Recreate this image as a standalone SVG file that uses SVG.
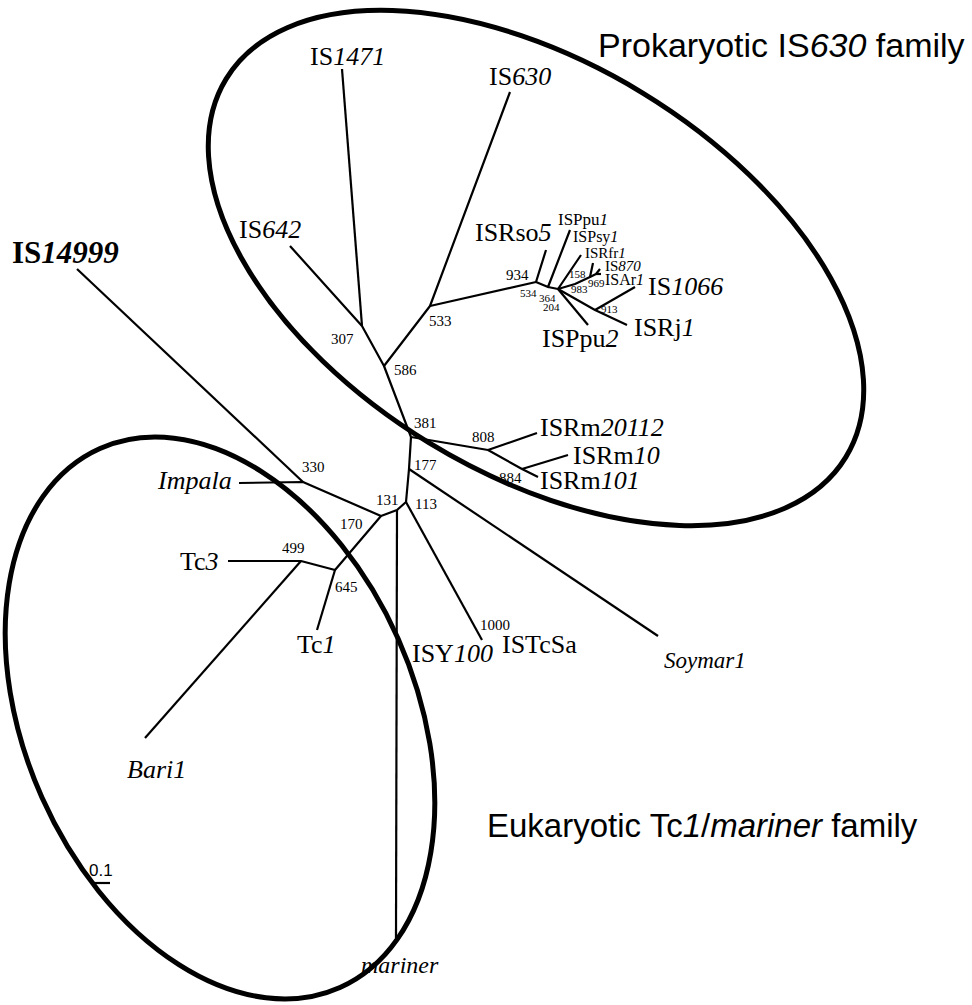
<svg xmlns="http://www.w3.org/2000/svg" width="972" height="1005" viewBox="0 0 972 1005">
<style>
.bg{fill:#fff}
.ell{fill:none;stroke:#000;stroke-width:5}
.br{fill:none;stroke:#000;stroke-width:2.2;stroke-linecap:butt;stroke-linejoin:round}
.lbl{font-family:"Liberation Serif","Times New Roman",serif;font-size:26px;fill:#000}
.sm{font-family:"Liberation Serif","Times New Roman",serif;font-size:16px;fill:#000}
.bs{font-family:"Liberation Serif","Times New Roman",serif;font-size:15px;fill:#000}
.bss{font-family:"Liberation Serif","Times New Roman",serif;font-size:11px;fill:#000}
.ttl{font-family:"Liberation Sans",Arial,sans-serif;font-size:33px;fill:#000}
.it{font-style:italic}
</style>
<rect class="bg" x="0" y="0" width="972" height="1005"/>
<g id="clusters">
<ellipse id="prokaryotic-ellipse" class="ell" cx="536" cy="268" rx="363" ry="205" transform="rotate(31.4 536 268)"/>
<ellipse id="eukaryotic-ellipse" class="ell" cx="220" cy="718" rx="295" ry="195" transform="rotate(66 220 718)"/>
</g>
<g id="connectors">
<path class="br" d="M411,437 L384,366 L362,326 L290,246"/>
<path class="br" d="M362,326 L342,69"/>
<path class="br" d="M384,366 L430,306 L510,92"/>
<path class="br" d="M430,306 L536,282 L546,250"/>
<path class="br" d="M536,282 L548,287 L570,230"/>
<path class="br" d="M548,287 L558,289 L581,255"/>
<path class="br" d="M558,289 L575,284 L590,277 L593,263"/>
<path class="br" d="M590,277 L596,274 L600,269"/>
<path class="br" d="M596,274 L601,274"/>
<path class="br" d="M558,289 L588,325"/>
<path class="br" d="M558,289 L595,310 L627,325"/>
<path class="br" d="M595,310 L635,287"/>
<path class="br" d="M411,437 L488,450 L537,433"/>
<path class="br" d="M488,450 L522,469 L538,477"/>
<path class="br" d="M522,469 L568,455"/>
<path class="br" d="M411,437 L409,469 L406,502 L397,510 L381,516 L303,482 L239,483"/>
<path class="br" d="M303,482 L77,269"/>
<path class="br" d="M409,469 L658,636"/>
<path class="br" d="M406,502 L482,640"/>
<path class="br" d="M397,510 L396,938"/>
<path class="br" d="M381,516 L335,570 L301,561 L228,561"/>
<path class="br" d="M301,561 L145,738"/>
<path class="br" d="M335,570 L317,630"/>
<path id="scale-bar" class="br" d="M92,883 L110,883"/>
</g>
<g id="node-labels">
<text id="IS1471" class="lbl" x="310" y="65">IS<tspan class="it">1471</tspan></text>
<text id="IS630" class="lbl" x="489" y="85">IS<tspan class="it">630</tspan></text>
<text id="IS642" class="lbl" x="239" y="238">IS<tspan class="it">642</tspan></text>
<text id="IS14999" class="lbl" x="12" y="263" style="font-size:31px;font-weight:bold">IS<tspan class="it">14999</tspan></text>
<text id="ISRso5" class="lbl" x="475" y="241">ISRso<tspan class="it">5</tspan></text>
<text id="ISPpu1" class="sm" x="558" y="225" style="font-size:17px">ISPpu<tspan class="it">1</tspan></text>
<text id="ISPsy1" class="sm" x="573" y="242">ISPsy<tspan class="it">1</tspan></text>
<text id="ISRfr1" class="sm" x="585" y="258" style="font-size:15px">ISRfr<tspan class="it">1</tspan></text>
<text id="IS870" class="sm" x="605" y="271" style="font-size:15px">IS<tspan class="it">870</tspan></text>
<text id="ISAr1" class="sm" x="605" y="285">ISAr<tspan class="it">1</tspan></text>
<text id="IS1066" class="lbl" x="648" y="295">IS<tspan class="it">1066</tspan></text>
<text id="ISRj1" class="lbl" x="634" y="336">ISRj<tspan class="it">1</tspan></text>
<text id="ISPpu2" class="lbl" x="542" y="347">ISPpu<tspan class="it">2</tspan></text>
<text id="ISRm20112" class="lbl" x="540" y="436">ISRm<tspan class="it">20112</tspan></text>
<text id="ISRm10" class="lbl" x="573" y="464">ISRm<tspan class="it">10</tspan></text>
<text id="ISRm101" class="lbl" x="540" y="489">ISRm<tspan class="it">101</tspan></text>
<text id="Impala" class="lbl it" x="158" y="489">Impala</text>
<text id="Tc3" class="lbl" x="180" y="570">Tc<tspan class="it">3</tspan></text>
<text id="Tc1" class="lbl" x="297" y="653">Tc<tspan class="it">1</tspan></text>
<text id="ISY100" class="lbl" x="412" y="662">ISY<tspan class="it">100</tspan></text>
<text id="ISTcSa" class="lbl" x="502" y="653">ISTcSa</text>
<text id="Soymar1" class="lbl it" x="664" y="668" style="font-size:23px">Soymar1</text>
<text id="Bari1" class="lbl it" x="127" y="778">Bari1</text>
<text id="mariner" class="lbl it" x="361" y="973" style="font-size:24px">mariner</text>
</g>
<g id="bootstrap-values">
<text class="bs" x="331" y="344">307</text>
<text class="bs" x="394" y="375">586</text>
<text class="bs" x="429" y="326">533</text>
<text class="bs" x="506" y="280">934</text>
<text class="bss" x="520" y="297">534</text>
<text class="bss" x="539" y="302">364</text>
<text class="bss" x="543" y="311">204</text>
<text class="bss" x="569" y="278">158</text>
<text class="bss" x="571" y="293">983</text>
<text class="bss" x="588" y="287">969</text>
<text class="bss" x="601" y="313">913</text>
<text class="bs" x="414" y="428">381</text>
<text class="bs" x="472" y="442">808</text>
<text class="bs" x="499" y="483">884</text>
<text class="bs" x="414" y="470">177</text>
<text class="bs" x="415" y="509">113</text>
<text class="bs" x="376" y="505">131</text>
<text class="bs" x="302" y="472">330</text>
<text class="bs" x="340" y="529">170</text>
<text class="bs" x="282" y="553">499</text>
<text class="bs" x="335" y="592">645</text>
<text class="bs" x="480" y="630">1000</text>
</g>
<g id="titles">
<text class="ttl" x="598" y="57" style="font-size:34px">Prokaryotic IS<tspan class="it">630</tspan> family</text>
<text class="ttl" x="487" y="837">Eukaryotic Tc<tspan class="it">1</tspan>/<tspan class="it">mariner</tspan> family</text>
<text id="scale-label" x="89" y="876" style="font-family:'Liberation Sans',Arial,sans-serif;font-size:17px">0.1</text>
</g>
</svg>
